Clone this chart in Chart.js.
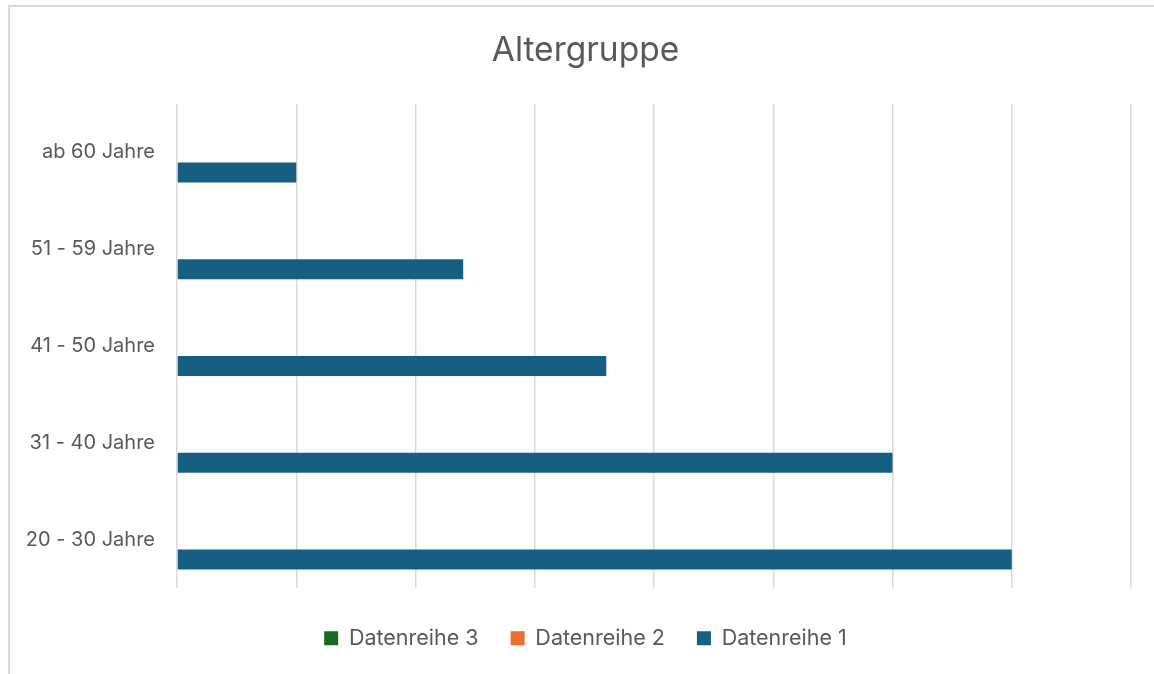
<!DOCTYPE html>
<html>
<head>
<meta charset="utf-8">
<script src="https://cdn.jsdelivr.net/npm/chart.js@4"></script>
<style>
    html, body { margin:0; padding:0; background:#ffffff; overflow:hidden; }
    #frame { position:absolute; left:8px; top:5px; width:1160px; height:680px; border-left:2px solid #d9d9d9; border-top:2px solid #d9d9d9; }
    #myChart { position:absolute; left:0; top:0; }
</style>
</head>
<body>
<div id="frame"></div>
<canvas id="myChart" width="1154" height="674"></canvas>
<script>
// categories from top to bottom (Excel draws the first category at the bottom)
var categories = ['ab 60 Jahre', '51 - 59 Jahre', '41 - 50 Jahre', '31 - 40 Jahre', '20 - 30 Jahre'];
var reihe1 = [1, 2.4, 3.6, 6, 7];
var reihe2 = [null, null, null, null, null];
var reihe3 = [null, null, null, null, null];
var xTicks = [0, 8, 1]; // min, max, step

var grey = '#595959';
var fontName = 'Inter';

//Labels of the y axis are wider than the axis box, so widen the clip area
var unclipLabels = {
    id: 'unclipLabels',
    afterLayout: function(chart){
        chart.scales.y.left = 0;
    }
};

var ctx = document.getElementById('myChart');
var myBarChart = new Chart(ctx, {
    type: 'bar',
    data: {
        labels: categories,
        // legend order in the picture: 3, 2, 1
        datasets: [
            { label: 'Datenreihe 3', data: reihe3, backgroundColor: '#196b24' },
            { label: 'Datenreihe 2', data: reihe2, backgroundColor: '#e97132' },
            { label: 'Datenreihe 1', data: reihe1, backgroundColor: '#156082' }
        ]
    },
    options: {
        indexAxis: 'y',
        responsive: false,
        animation: false,
        layout: { padding: { left: 40, right: 23, top: 0, bottom: 15 } },
        datasets: { bar: { categoryPercentage: 0.62, barPercentage: 1.0, borderWidth: 0 } },
        scales: {
            x: {
                min: xTicks[0],
                max: xTicks[1],
                ticks: { display: false, stepSize: xTicks[2] },
                grid: { color: '#d9d9d9', lineWidth: 1.5, drawTicks: false },
                border: { display: false },
                afterFit: function(scale){ scale.height = 7.5; }
            },
            y: {
                ticks: { color: grey, font: { family: fontName, size: 20 }, padding: 22 },
                grid: { display: false, drawTicks: false },
                border: { display: false },
                afterFit: function(scale){ scale.width = 137; }
            }
        },
        plugins: {
            title: {
                display: true,
                text: 'Altergruppe',
                color: grey,
                font: { family: fontName, size: 33.5, weight: 'normal' },
                padding: { top: 31, bottom: 32.8 }
            },
            legend: {
                position: 'bottom',
                labels: {
                    color: grey,
                    font: { family: fontName, size: 21.5 },
                    boxWidth: 14,
                    boxHeight: 14,
                    padding: 32
                }
            },
            tooltip: { enabled: false }
        }
    },
    plugins: [unclipLabels]
});
</script>
</body>
</html>
